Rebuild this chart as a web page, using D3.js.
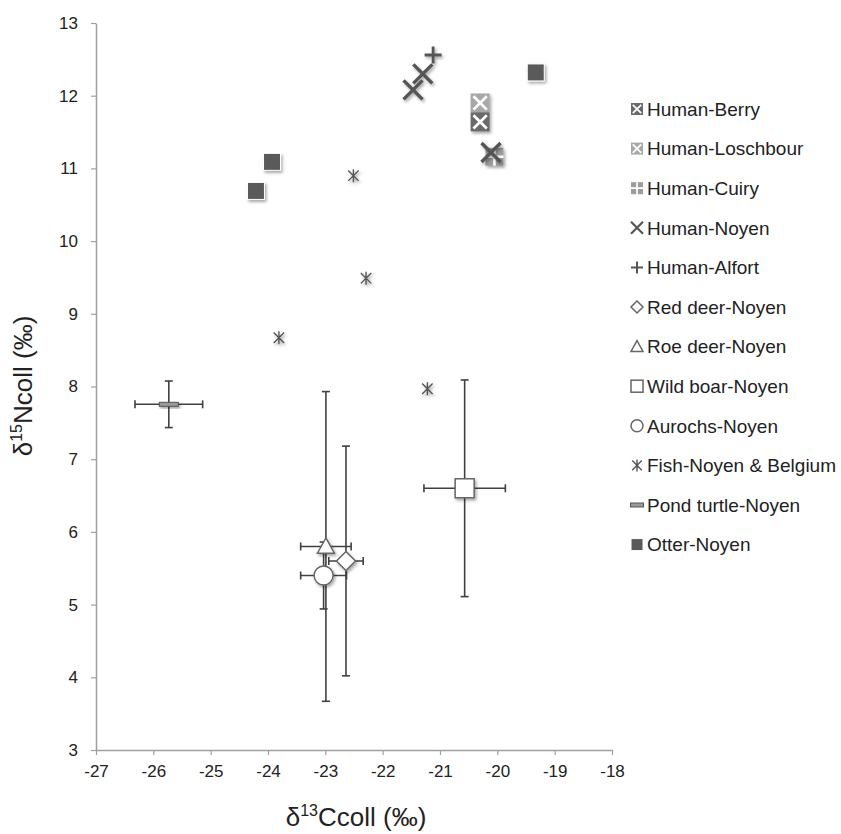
<!DOCTYPE html>
<html>
<head>
<meta charset="utf-8">
<script src="https://cdn.jsdelivr.net/npm/d3@7"></script>
<style>
  body { margin: 0; background: #fff; }
  text { font-family: "Liberation Sans", Arial, sans-serif; fill: #222; }
</style>
</head>
<body>
<svg id="vis" width="841" height="834"></svg>
<script>
// data: [d13C, d15N]
const humanBerry = [[-20.30, 11.64]];
const humanLoschbour = [[-20.30, 11.90]];
const humanCuiry = [[-20.05, 11.16]];
const humanNoyen = [[-21.30, 12.30], [-21.47, 12.08], [-20.11, 11.22]];
const humanAlfort = [[-21.12, 12.56]];
const fish = [[-22.51, 10.90], [-22.29, 9.49], [-23.81, 8.67], [-21.22, 7.97]];
const otter = [[-19.33, 12.32], [-23.93, 11.09], [-24.21, 10.69]];
// means with error: [x, y, xErr, yErr]
const redDeer = [[-22.64, 5.60, 0.30, 1.58]];
const roeDeer = [[-22.99, 5.80, 0.44, 2.13]];
const wildBoar = [[-20.57, 6.60, 0.71, 1.49]];
const aurochs = [[-23.03, 5.40, 0.40, 0.46]];
const pondTurtle = [[-25.73, 7.755, 0.59, 0.32]];

const legendNames = ["Human-Berry", "Human-Loschbour", "Human-Cuiry", "Human-Noyen", "Human-Alfort",
  "Red deer-Noyen", "Roe deer-Noyen", "Wild boar-Noyen", "Aurochs-Noyen", "Fish-Noyen & Belgium",
  "Pond turtle-Noyen", "Otter-Noyen"];
const xTicks = [-27, -26, -25, -24, -23, -22, -21, -20, -19, -18];
const yTicks = [3, 4, 5, 6, 7, 8, 9, 10, 11, 12, 13];

let svg = d3.select("#vis");
let x = d3.scaleLinear().domain([-27, -18]).range([96, 612]);
let y = d3.scaleLinear().domain([3, 13]).range([750, 23]);

let defs = svg.append("defs");
let f = defs.append("filter").attr("id", "shadow")
  .attr("x", "-50%").attr("y", "-50%").attr("width", "200%").attr("height", "200%");
f.append("feDropShadow").attr("dx", 1.5).attr("dy", 2).attr("stdDeviation", 1.5)
  .attr("flood-color", "#000").attr("flood-opacity", 0.35);

// axes (plain hyphen for negatives, like the original)
let gx = svg.append("g").attr("transform", "translate(0,750)")
  .call(d3.axisBottom(x).tickValues(xTicks).tickFormat(d => String(d)).tickSize(5).tickSizeOuter(0));
let gy = svg.append("g").attr("transform", "translate(96,0)")
  .call(d3.axisLeft(y).tickValues(yTicks).tickFormat(d => String(d)).tickSize(5).tickSizeOuter(0));
[gx, gy].forEach(g => {
  g.select(".domain").attr("stroke", "#a0a0a0").attr("stroke-width", 1.5);
  g.selectAll(".tick line").attr("stroke", "#a0a0a0").attr("stroke-width", 1.2);
  g.selectAll(".tick text").attr("font-size", 17).attr("fill", "#222")
    .style("font-family", "'Liberation Sans', Arial, sans-serif");
});
gx.selectAll(".tick text").attr("dy", "1.1em");
gy.selectAll(".tick text").attr("x", -18);

// axis titles
let xt = svg.append("text").attr("x", 356).attr("y", 826).attr("text-anchor", "middle").attr("font-size", 26);
xt.append("tspan").text("δ");
xt.append("tspan").attr("font-size", 16).attr("dy", -10).text("13");
xt.append("tspan").attr("dy", 10).text("Ccoll (‰)");
let yt = svg.append("text").attr("transform", "translate(32,386) rotate(-90)").attr("text-anchor", "middle").attr("font-size", 26);
yt.append("tspan").text("δ");
yt.append("tspan").attr("font-size", 16).attr("dy", -10).text("15");
yt.append("tspan").attr("dy", 10).text("Ncoll (‰)");

// error bars
function errBars(data) {
  let g = svg.append("g").attr("stroke", "#404040").attr("stroke-width", 1.6).attr("fill", "none");
  data.forEach(d => {
    let cx = x(d[0]), cy = y(d[1]);
    let x0 = x(d[0] - d[2]), x1 = x(d[0] + d[2]);
    let y0 = y(d[1] - d[3]), y1 = y(d[1] + d[3]);
    g.append("line").attr("x1", x0).attr("x2", x1).attr("y1", cy).attr("y2", cy);
    g.append("line").attr("x1", x0).attr("x2", x0).attr("y1", cy - 4).attr("y2", cy + 4);
    g.append("line").attr("x1", x1).attr("x2", x1).attr("y1", cy - 4).attr("y2", cy + 4);
    g.append("line").attr("x1", cx).attr("x2", cx).attr("y1", y0).attr("y2", y1);
    g.append("line").attr("x1", cx - 4).attr("x2", cx + 4).attr("y1", y0).attr("y2", y0);
    g.append("line").attr("x1", cx - 4).attr("x2", cx + 4).attr("y1", y1).attr("y2", y1);
  });
}
[pondTurtle, wildBoar, roeDeer, aurochs, redDeer].forEach(errBars);

// marker drawing functions, s = size
function drawMarker(g, kind, s) {
  let h = s / 2;
  if (kind === "berry" || kind === "losch") {
    g.append("rect").attr("x", -h).attr("y", -h).attr("width", s).attr("height", s)
      .attr("fill", kind === "berry" ? "#6a6a6a" : "#a8a8a8");
    g.append("path").attr("d", `M${-h * 0.7},${-h * 0.7}L${h * 0.7},${h * 0.7}M${h * 0.7},${-h * 0.7}L${-h * 0.7},${h * 0.7}`)
      .attr("stroke", "#fff").attr("stroke-width", s / 7);
  } else if (kind === "cuiry") {
    g.append("rect").attr("x", -h).attr("y", -h).attr("width", s).attr("height", s).attr("fill", "#9c9c9c");
    g.append("path").attr("d", `M0,${-h}V${h}M${-h},0H${h}`).attr("stroke", "#fff").attr("stroke-width", s / 7);
  } else if (kind === "noyen") {
    g.append("path").attr("d", `M${-h},${-h}L${h},${h}M${h},${-h}L${-h},${h}`)
      .attr("stroke", "#555").attr("stroke-width", s / 5.5);
  } else if (kind === "alfort") {
    g.append("path").attr("d", `M0,${-h}V${h}M${-h},0H${h}`).attr("stroke", "#555").attr("stroke-width", s / 6);
  } else if (kind === "diamond") {
    g.append("path").attr("d", `M0,${-h}L${h},0L0,${h}L${-h},0Z`).attr("fill", "#fff").attr("stroke", "#666").attr("stroke-width", 1.5);
  } else if (kind === "triangle") {
    g.append("path").attr("d", `M0,${-h}L${h},${h * 0.8}L${-h},${h * 0.8}Z`).attr("fill", "#fff").attr("stroke", "#666").attr("stroke-width", 1.5);
  } else if (kind === "square") {
    g.append("rect").attr("x", -h).attr("y", -h).attr("width", s).attr("height", s).attr("fill", "#fff").attr("stroke", "#666").attr("stroke-width", 1.5);
  } else if (kind === "circle") {
    g.append("circle").attr("r", h).attr("fill", "#fff").attr("stroke", "#666").attr("stroke-width", 1.5);
  } else if (kind === "fish") {
    g.append("path").attr("d", `M${-h * 0.8},${-h * 0.8}L${h * 0.8},${h * 0.8}M${h * 0.8},${-h * 0.8}L${-h * 0.8},${h * 0.8}M0,${-h}V${h}`)
      .attr("stroke", "#555").attr("stroke-width", 1.4);
  } else if (kind === "turtle") {
    g.append("rect").attr("x", -h).attr("y", -2).attr("width", s).attr("height", 4)
      .attr("fill", "#9a9a9a").attr("stroke", "#555").attr("stroke-width", 1);
  } else if (kind === "otter") {
    g.append("rect").attr("x", -h).attr("y", -h).attr("width", s).attr("height", s)
      .attr("fill", "#5a5a5a").attr("stroke", "#fff").attr("stroke-width", 1);
  }
}

function plot(data, kind, s) {
  let g = svg.append("g").selectAll("g").data(data).enter().append("g")
    .attr("transform", d => `translate(${x(d[0])},${y(d[1])})`)
    .attr("filter", "url(#shadow)");
  g.each(function () { drawMarker(d3.select(this), kind, s); });
}

plot(pondTurtle, "turtle", 19);
plot(wildBoar, "square", 19);
plot(roeDeer, "triangle", 17);
plot(aurochs, "circle", 19);
plot(redDeer, "diamond", 19);
plot(fish, "fish", 13);
plot(otter, "otter", 17);
plot(humanCuiry, "cuiry", 18);
plot(humanLoschbour, "losch", 19);
plot(humanBerry, "berry", 19);
plot(humanNoyen, "noyen", 19);
plot(humanAlfort, "alfort", 17);

// legend
const legendKinds = ["berry", "losch", "cuiry", "noyen", "alfort", "diamond", "triangle", "square", "circle", "fish", "turtle", "otter"];
let lg = svg.append("g").selectAll("g").data(legendNames).enter().append("g")
  .attr("transform", (d, i) => `translate(637,${109 + i * 39.6})`);
lg.each(function (d, i) {
  let m = d3.select(this).append("g");
  drawMarker(m, legendKinds[i], legendKinds[i] === "turtle" ? 13 : 12);
  d3.select(this).append("text").attr("x", 10).attr("dy", "0.36em").attr("font-size", 19).text(d);
});
</script>
</body>
</html>
